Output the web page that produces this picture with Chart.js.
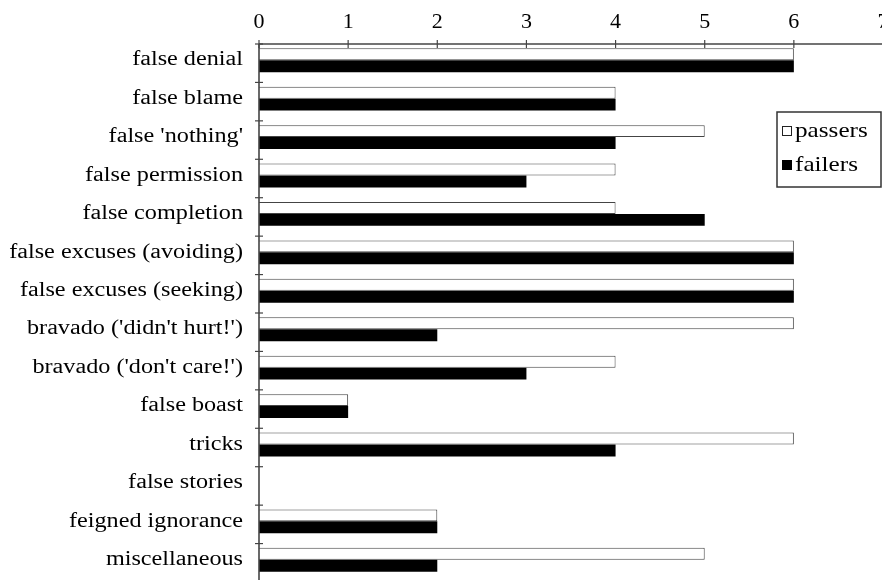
<!DOCTYPE html>
<html><head><meta charset="utf-8">
<script src="https://cdn.jsdelivr.net/npm/chart.js@4"></script>
<style>html,body{margin:0;padding:0;overflow:hidden;background:#fff;width:882px;height:580px;font-family:'Liberation Serif',serif}#wrap{width:900px;height:600px;position:relative}</style>
</head><body><div id="wrap"><canvas id="c" width="900" height="600"></canvas></div>
<script>
const categories = ["false denial","false blame","false 'nothing'","false permission","false completion","false excuses (avoiding)","false excuses (seeking)","bravado ('didn't hurt!')","bravado ('don't care!')","false boast","tricks","false stories","feigned ignorance","miscellaneous"];
const passers = [6,4,5,4,4,6,6,6,4,1,6,0,2,5];
const failers = [6,4,4,3,5,6,6,2,3,1,4,0,2,2];
const xTicks = [0,1,2,3,4,5,6,7];
const seriesNames = ["passers","failers"];

const FONT = "Liberation Serif";
const AXIS = '#444';
const SHIFT = 3;

function stretchedText(ctx, text, xPos, yMid, size, sx, align){
  ctx.save();
  ctx.font = size + "px \"" + FONT + "\", serif"; ctx.textBaseline = 'middle'; ctx.textAlign = align;
  ctx.translate(xPos, yMid); ctx.scale(sx, 1);
  ctx.fillText(text, 0, 0);
  ctx.restore();
}

const decor = {
  id:'decor',
  afterDraw(chart){
    const ctx = chart.ctx, x = chart.scales.x, y = chart.scales.y, a = chart.chartArea;
    const top = a.top + SHIFT;
    ctx.save();
    ctx.strokeStyle = AXIS; ctx.lineWidth = 1.6;
    ctx.beginPath(); ctx.moveTo(a.left, top); ctx.lineTo(a.right+20, top); ctx.stroke();
    ctx.beginPath(); ctx.moveTo(a.left, top); ctx.lineTo(a.left, a.bottom+30); ctx.stroke();
    ctx.lineWidth = 1.2;
    xTicks.forEach(v=>{const px=x.getPixelForValue(v);ctx.beginPath();ctx.moveTo(px,top-4);ctx.lineTo(px,top+4);ctx.stroke();});
    for(let i=0;i<=categories.length;i++){
      const py = y.getPixelForValue(i-0.5)+SHIFT;
      ctx.beginPath();ctx.moveTo(a.left-4,py);ctx.lineTo(a.left+4,py);ctx.stroke();
    }
    ctx.fillStyle = '#000';
    categories.forEach((c,i)=>{
      stretchedText(ctx, c, a.left-16, y.getPixelForValue(i), 20, 1.21, 'right');
    });
    const lx=777, ly=112, lw=104, lh=75;
    ctx.fillStyle='#fff'; ctx.fillRect(lx,ly,lw,lh);
    ctx.strokeStyle='#333'; ctx.lineWidth=1.5; ctx.strokeRect(lx,ly,lw,lh);
    ctx.strokeStyle='#222'; ctx.lineWidth=1;
    ctx.fillRect(782.5,126.5,9,9); ctx.strokeRect(782.5,126.5,9,9);
    ctx.fillStyle='#000';
    stretchedText(ctx, seriesNames[0], 795, 131, 21, 1.2, 'left');
    ctx.fillRect(782,160,10,10);
    stretchedText(ctx, seriesNames[1], 795, 165, 21, 1.2, 'left');
    ctx.restore();
  }
};

function build(){
  new Chart(document.getElementById('c'),{
    type:'bar',
    data:{labels:categories,datasets:[
      {label:seriesNames[0],data:passers,backgroundColor:'#fff',borderColor:'#444',borderWidth:1,barPercentage:1,categoryPercentage:0.62},
      {label:seriesNames[1],data:failers,backgroundColor:'#000',borderColor:'#000',borderWidth:0,barPercentage:1,categoryPercentage:0.62}
    ]},
    options:{
      indexAxis:'y',responsive:false,animation:false,
      layout:{padding:{left:0,right:17,top:0,bottom:21}},
      plugins:{legend:{display:false},tooltip:{enabled:false}},
      scales:{
        x:{position:'top',min:0,max:7,
          afterFit(s){s.height=41;},
          afterBuildTicks(s){s.ticks=xTicks.map(v=>({value:v}));},
          grid:{display:false,drawTicks:false},border:{display:false},
          ticks:{color:'#000',font:{family:"'Liberation Serif', serif",size:22},padding:6,maxRotation:0,autoSkip:false}},
        y:{afterFit(s){s.width=259;},
          grid:{display:false,drawTicks:false},border:{display:false},
          ticks:{display:false}}
      }
    },
    plugins:[decor]
  });
}
Promise.all([document.fonts.load("20px 'Liberation Serif'"), document.fonts.load("22px 'Liberation Serif'")]).then(build, build);
</script></body></html>
